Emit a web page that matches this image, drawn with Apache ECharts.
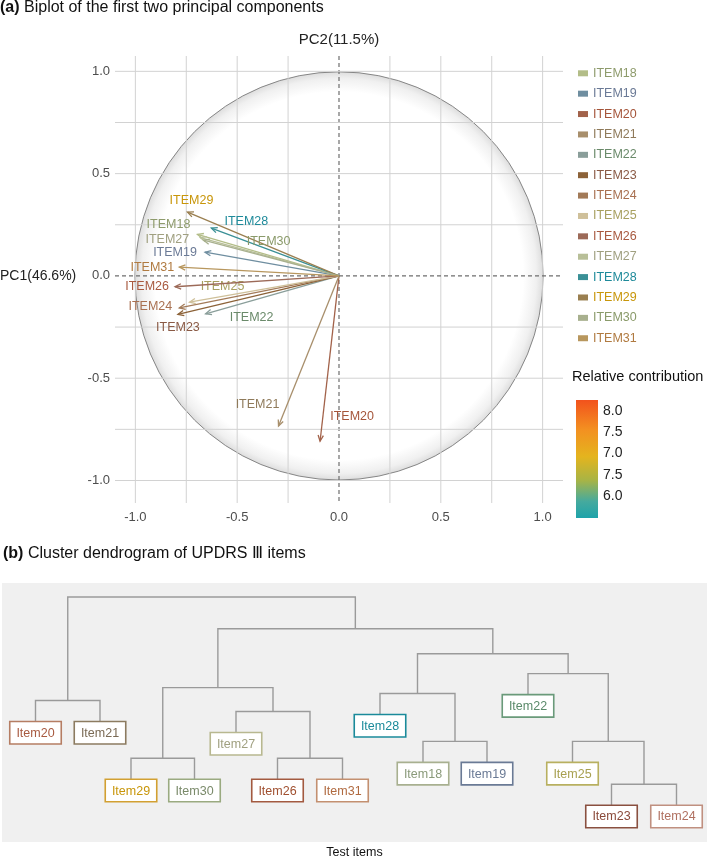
<!DOCTYPE html>
<html><head><meta charset="utf-8">
<script src="https://cdn.jsdelivr.net/npm/echarts@6/dist/echarts.min.js"></script>
<style>html,body{margin:0;padding:0;background:#fff}#c{width:709px;height:860px}</style>
</head><body><div id="c"></div>
<script>
// ---------- DATA ----------
const items = ['ITEM18','ITEM19','ITEM20','ITEM21','ITEM22','ITEM23','ITEM24','ITEM25','ITEM26','ITEM27','ITEM28','ITEM29','ITEM30','ITEM31'];
const pc1 = [-0.695,-0.658,-0.093,-0.297,-0.655,-0.791,-0.784,-0.734,-0.805,-0.681,-0.627,-0.744,-0.665,-0.784];
const pc2 = [0.203,0.116,-0.808,-0.734,-0.185,-0.188,-0.156,-0.128,-0.053,0.187,0.234,0.312,0.175,0.043];
const axisTicks = [-1,-0.5,0,0.5,1];
const gridTicks = [-1,-0.75,-0.5,-0.25,0,0.25,0.5,0.75,1];
const circleRadius = [1];

const colorbarRange = [5.5, 8.25];
const colorbarTicks = [6.0, 6.5, 7.0, 7.5, 8.0];
const colorbarTickLabels = ['6.0','7.5','7.0','7.5','8.0'];

const leafNames = ['Item20','Item21','Item29','Item30','Item27','Item26','Item31','Item28','Item18','Item19','Item22','Item25','Item23','Item24'];
const leafPositions = [0.67,1.96,2.58,3.85,4.68,5.51,6.81,7.56,8.42,9.70,10.52,11.41,12.19,13.49];
const mergeNames = ['M1','M2','M3','M4','M5','M6','M7','M8','M9','M10','M11','M12','M13'];
const mergeChildren = [['Item20','Item21'],['Item29','Item30'],['Item26','Item31'],['Item27','M3'],['M2','M4'],['Item18','Item19'],['Item28','M6'],['Item23','Item24'],['Item25','M8'],['Item22','M9'],['M7','M10'],['M5','M11'],['M1','M12']];
const mergeHeights = [7.1,4.2,4.2,6.55,7.75,5.05,7.45,2.9,5.05,8.45,9.45,10.7,12.3];

// ---------- STYLES ----------
const FONT = '"Liberation Sans", Arial, Helvetica, sans-serif';
const arrowColors = ['#b3bd88','#6f8ea0','#a2624a','#a88f6c','#8a9e9a','#8c6238','#a27a58','#cfc09a','#9c6a58','#b8bf98','#3a9096','#9a7f50','#a8b08e','#b8975e'];
const labelColors = ['#8e9b6c','#6b7a96','#a5553a','#8f7a5a','#6a8a6a','#8a5a45','#a87050','#a8a060','#a85a40','#a0a080','#1e8a9a','#c8960a','#8a9a6a','#b07a40'];
const labelOffsets = [[-29,-10],[-30,0],[32,-25],[-21,-22],[46,4],[0,13],[-29,-1],[33,-16],[-28,0],[-33,2],[35,-7],[4,-12],[65,1],[-27,0]];
const leafBorder = {Item20:'#b57d63',Item21:'#8c7b60',Item29:'#d2a032',Item30:'#9aaa80',Item27:'#b8b890',Item26:'#a35a40',Item31:'#c39070',Item28:'#1a8a9a',Item18:'#a8b090',Item19:'#6a7a95',Item22:'#6a9a7a',Item25:'#b8b060',Item23:'#8a5040',Item24:'#c09080'};
const leafText = {Item20:'#a85a40',Item21:'#7a6a55',Item29:'#c8960a',Item30:'#7a8a6a',Item27:'#a0a080',Item26:'#a05030',Item31:'#b06a40',Item28:'#1a8a9a',Item18:'#8a9a7a',Item19:'#6a7a95',Item22:'#5a8a6a',Item25:'#a8a050',Item23:'#8a4a3a',Item24:'#b07060'};

// ---------- DERIVED ----------
const pos = {}, hgt = {}, parentH = {};
leafNames.forEach((n,i)=>{pos[n]=leafPositions[i]; hgt[n]=-1;});
mergeNames.forEach((m,i)=>{const [a,b]=mergeChildren[i]; pos[m]=(pos[a]+pos[b])/2; hgt[m]=mergeHeights[i]; parentH[a]=mergeHeights[i]; parentH[b]=mergeHeights[i];});
const elbowData = mergeNames.map((m,i)=>{const [a,b]=mergeChildren[i]; return [pos[a],pos[b],mergeHeights[i],hgt[a],hgt[b]];});
const leafData = leafNames.map((n,i)=>[pos[n], parentH[n], i]);

const chart = echarts.init(document.getElementById('c'), null, {renderer:'canvas'});

function arrowSeries(i){
  return {
    type:'custom', name: items[i], xAxisIndex:0, yAxisIndex:0, z:5, silent:true,
    itemStyle:{color:arrowColors[i]},
    data:[[pc1[i], pc2[i]]],
    renderItem:function(params, api){
      const o = api.coord([0,0]);
      const p = api.coord([api.value(0), api.value(1)]);
      const ang = Math.atan2(p[1]-o[1], p[0]-o[0]);
      const L = 6.5, a = 0.42;
      const h1 = [p[0]-L*Math.cos(ang-a), p[1]-L*Math.sin(ang-a)];
      const h2 = [p[0]-L*Math.cos(ang+a), p[1]-L*Math.sin(ang+a)];
      const off = labelOffsets[i];
      return {type:'group', children:[
        {type:'line', shape:{x1:o[0],y1:o[1],x2:p[0],y2:p[1]}, style:{stroke:arrowColors[i], lineWidth:1.3}},
        {type:'polyline', shape:{points:[h1,p,h2]}, style:{stroke:arrowColors[i], lineWidth:1.3, fill:'none'}},
        {type:'text', x:p[0]+off[0], y:p[1]+off[1], style:{text:items[i], fill:labelColors[i], font:'12.5px '+FONT, align:'center', verticalAlign:'middle'}}
      ]};
    }
  };
}

const option = {
  animation:false,
  backgroundColor:'#ffffff',
  textStyle:{fontFamily:FONT},
  title:[
    {text:'{b|(a)} Biplot of the first two principal components', left:0, top:0, padding:0,
     textStyle:{fontSize:16, fontWeight:'normal', color:'#111', fontFamily:FONT, rich:{b:{fontSize:16, fontWeight:'bold', color:'#111', fontFamily:FONT}}}},
    {text:'{b|(b)} Cluster dendrogram of UPDRS Ⅲ items', left:3, top:546, padding:0,
     textStyle:{fontSize:16, fontWeight:'normal', color:'#111', fontFamily:FONT, rich:{b:{fontSize:16, fontWeight:'bold', color:'#111', fontFamily:FONT}}}}
  ],
  graphic:[
    {type:'text', x:339, y:40, style:{text:'PC2(11.5%)', font:'15px '+FONT, fill:'#222', align:'center', verticalAlign:'middle'}},
    {type:'text', x:0, y:276, style:{text:'PC1(46.6%)', font:'14px '+FONT, fill:'#222', align:'left', verticalAlign:'middle'}},
    {type:'text', x:572, y:377, style:{text:'Relative contribution', font:'14.5px '+FONT, fill:'#111', align:'left', verticalAlign:'middle'}}
  ],
  legend:{
    orient:'vertical', left:578, top:66.3, padding:0, itemWidth:10, itemHeight:6, itemGap:6.38, icon:'rect',
    textStyle:{fontSize:12.5, fontFamily:FONT, lineHeight:14},
    data: items.map((n,i)=>({name:n, itemStyle:{color:arrowColors[i]}, textStyle:{color:labelColors[i]}}))
  },
  grid:[
    {left:115, top:56, width:448, height:447, containLabel:false},
    {left:2, top:583, width:705, height:260, show:true, backgroundColor:'#f0f0f0', borderWidth:0, containLabel:false},
    {left:576, top:400, width:22, height:118, containLabel:false}
  ],
  xAxis:[
    {gridIndex:0, type:'value', min:-1.1, max:1.1, axisLine:{show:false}, axisTick:{show:false}, splitLine:{show:false},
     axisLabel:{customValues:axisTicks, formatter:v=>v.toFixed(1), color:'#4d4d4d', fontSize:13, margin:8, fontFamily:FONT}},
    {gridIndex:1, type:'value', min:0, max:14.1, show:true, axisLine:{show:false}, axisTick:{show:false}, axisLabel:{show:false}, splitLine:{show:false},
     name:'Test items', nameLocation:'middle', nameGap:4, nameTextStyle:{fontSize:12.5, color:'#111', fontFamily:FONT, verticalAlign:'top'}},
    {gridIndex:2, type:'category', data:['bar'], show:false}
  ],
  yAxis:[
    {gridIndex:0, type:'value', min:-1.11, max:1.075, axisLine:{show:false}, axisTick:{show:false}, splitLine:{show:false},
     axisLabel:{customValues:axisTicks, formatter:v=>v.toFixed(1), color:'#4d4d4d', fontSize:13, margin:5, fontFamily:FONT}},
    {gridIndex:1, type:'value', min:0, max:13, show:false},
    {gridIndex:2, type:'value', min:colorbarRange[0], max:colorbarRange[1], position:'right', axisLine:{show:false}, splitLine:{show:false},
     axisTick:{show:true, inside:true, length:5, customValues:colorbarTicks, lineStyle:{color:'#ffffff', width:1.5}},
     axisLabel:{customValues:colorbarTicks, margin:5, color:'#222', fontSize:14, fontFamily:FONT,
       formatter:v=>{const k=colorbarTicks.findIndex(t=>Math.abs(t-v)<1e-6); return k>=0?colorbarTickLabels[k]:'';}}}
  ],
  series:[
    {type:'custom', xAxisIndex:0, yAxisIndex:0, z:1, silent:true, data:[[0,0,circleRadius[0]]],
     renderItem:function(params, api){
       const c = api.coord([api.value(0), api.value(1)]);
       const s = api.size([api.value(2), api.value(2)]);
       const r = (s[0]+s[1])/2;
       return {type:'circle', shape:{cx:c[0], cy:c[1], r:r},
         style:{fill:new echarts.graphic.RadialGradient(0.5,0.5,0.5,[{offset:0,color:'#ffffff'},{offset:0.9,color:'#ffffff'},{offset:0.965,color:'#f0f0f0'},{offset:1,color:'#dcdcdc'}]),
                stroke:'#7a7a7a', lineWidth:0.9}};
     }},
    {type:'custom', xAxisIndex:0, yAxisIndex:0, z:2, silent:true, data:gridTicks.map(v=>[v,0]),
     renderItem:function(params, api){
       const cs = params.coordSys; const v = api.value(0);
       const x = api.coord([v,0])[0];
       const zero = Math.abs(v)<1e-9;
       return {type:'line', shape:{x1:x,y1:cs.y,x2:x,y2:cs.y+cs.height},
         style: zero?{stroke:'#6e6e6e', lineWidth:1.2, lineDash:[4,3]}:{stroke:'#d2d2d2', lineWidth:1}};
     }},
    {type:'custom', xAxisIndex:0, yAxisIndex:0, z:2, silent:true, data:gridTicks.map(v=>[0,v]),
     renderItem:function(params, api){
       const cs = params.coordSys; const v = api.value(1);
       const y = api.coord([0,v])[1];
       const zero = Math.abs(v)<1e-9;
       return {type:'line', shape:{x1:cs.x,y1:y,x2:cs.x+cs.width,y2:y},
         style: zero?{stroke:'#6e6e6e', lineWidth:1.2, lineDash:[4,3]}:{stroke:'#d2d2d2', lineWidth:1}};
     }},
    ...items.map((n,i)=>arrowSeries(i)),
    {type:'custom', xAxisIndex:1, yAxisIndex:1, z:3, silent:true, data:elbowData,
     renderItem:function(params, api){
       const xa=api.value(0), xb=api.value(1), h=api.value(2), ha=api.value(3), hb=api.value(4);
       const pA = api.coord([xa,h]), pB = api.coord([xb,h]);
       const yA = ha<0 ? pA[1]+21 : api.coord([xa,ha])[1];
       const yB = hb<0 ? pB[1]+21 : api.coord([xb,hb])[1];
       return {type:'polyline', shape:{points:[[pA[0],yA],pA,pB,[pB[0],yB]]}, style:{stroke:'#9a9a9a', lineWidth:1.4, fill:'none'}};
     }},
    {type:'custom', xAxisIndex:1, yAxisIndex:1, z:4, silent:true, data:leafData,
     renderItem:function(params, api){
       const p = api.coord([api.value(0), api.value(1)]);
       const name = leafNames[api.value(2)];
       const w=51.5, hh=22.5, top=p[1]+21;
       return {type:'group', children:[
         {type:'rect', shape:{x:p[0]-w/2, y:top, width:w, height:hh}, style:{fill:'#ffffff', stroke:leafBorder[name], lineWidth:1.6}},
         {type:'text', x:p[0], y:top+hh/2+0.5, style:{text:name, fill:leafText[name], font:'12.5px '+FONT, align:'center', verticalAlign:'middle'}}
       ]};
     }},
    {type:'custom', xAxisIndex:2, yAxisIndex:2, z:2, silent:true, data:[[0, colorbarRange[0], colorbarRange[1]]],
     renderItem:function(params, api){
       const pTop = api.coord([api.value(0), api.value(2)]);
       const pBot = api.coord([api.value(0), api.value(1)]);
       const w = api.size([1,0])[0];
       return {type:'rect', shape:{x:pTop[0]-w/2, y:pTop[1], width:w, height:pBot[1]-pTop[1]},
         style:{fill:new echarts.graphic.LinearGradient(0,0,0,1,[{offset:0,color:'#f2521c'},{offset:0.25,color:'#f39021'},{offset:0.48,color:'#e4b41e'},{offset:0.68,color:'#a8b445'},{offset:0.86,color:'#45aa9e'},{offset:1,color:'#1ea3aa'}])}};
     }}
  ]
};
chart.setOption(option);
</script></body></html>
